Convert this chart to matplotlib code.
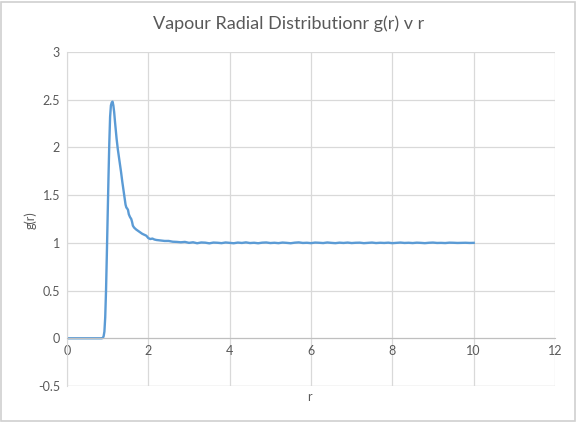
import matplotlib.pyplot as plt
from matplotlib.patches import Rectangle

# g(r)
r_peak = [0.0, 0.5, 0.85, 0.88, 0.90, 0.92, 0.94, 0.96, 0.98, 1.00, 1.02, 1.04, 1.06, 1.08,
          1.10, 1.12, 1.14, 1.16, 1.18, 1.20, 1.22, 1.25, 1.28, 1.30, 1.33, 1.36, 1.39,
          1.42, 1.44, 1.46, 1.48, 1.50, 1.52, 1.55, 1.58, 1.60, 1.62, 1.65, 1.70, 1.75,
          1.80, 1.85, 1.90, 1.95, 2.00, 2.05, 2.10, 2.15, 2.20, 2.30, 2.40, 2.50, 2.60,
          2.70, 2.80, 2.90]
g_peak = [0.0, 0.0, 0.0, 0.003, 0.02, 0.07, 0.22, 0.50, 0.88, 1.28, 1.68, 2.04, 2.32, 2.44,
          2.47, 2.48, 2.44, 2.37, 2.27, 2.18, 2.09, 1.98, 1.89, 1.83, 1.74, 1.64, 1.55,
          1.46, 1.40, 1.37, 1.36, 1.345, 1.30, 1.27, 1.25, 1.22, 1.18, 1.16, 1.14, 1.125,
          1.11, 1.095, 1.085, 1.075, 1.05, 1.04, 1.045, 1.035, 1.03, 1.025, 1.02, 1.02, 1.012,
          1.01, 1.006, 1.01]

r_tail = [3.0 + 0.1 * i for i in range(71)]
g_tail = [1.000, 1.006, 0.996, 1.004, 1.002, 0.995, 1.003, 1.001, 0.997, 1.004,
          1.000, 0.996, 1.003, 0.999, 1.005, 0.998, 1.001, 0.996, 1.002, 1.004,
          0.998, 1.001, 0.997, 1.003, 1.000, 0.996, 1.002, 1.005, 0.999, 1.001,
          0.997, 1.003, 1.001, 0.998, 1.004, 1.000, 0.997, 1.002, 0.999, 1.003,
          0.998, 1.001, 1.002, 0.997, 1.000, 1.003, 0.998, 1.001, 0.999, 1.002,
          0.997, 1.000, 1.003, 0.999, 1.001, 0.998, 1.002, 1.000, 0.997, 1.001,
          1.003, 0.999, 1.000, 0.998, 1.002, 1.001, 0.999, 1.000, 1.001, 0.999, 1.000]

r_list = r_peak + r_tail
g_list = g_peak + g_tail

x_ticks = [0, 2, 4, 6, 8, 10, 12]
y_ticks = [-0.5, 0, 0.5, 1, 1.5, 2, 2.5, 3]
y_labels = ['-0.5', '0', '0.5', '1', '1.5', '2', '2.5', '3']

plt.rcParams['font.family'] = ['Lato', 'DejaVu Sans']

fig = plt.figure(figsize=(5.77, 4.24), dpi=100)
fig.patches.append(Rectangle((0.002, 0.007), 0.995, 0.988, transform=fig.transFigure,
                             fill=False, edgecolor='#d0d0d0', linewidth=1.2))
ax = fig.add_axes([0.1161, 0.0896, 0.8458, 0.7878])

ax.plot(r_list, g_list, color='#5B9BD5', linewidth=1.7)

ax.set_xlim(0, 12)
ax.set_ylim(-0.5, 3)
ax.set_xticks(x_ticks)
ax.set_yticks(y_ticks)
ax.set_yticklabels(y_labels)
ax.grid(True, color='#d9d9d9', linewidth=0.9)
ax.set_axisbelow(True)

ax.spines['bottom'].set_position(('data', 0))
ax.spines['bottom'].set_color('#bfbfbf')
ax.spines['left'].set_color('#d9d9d9')
ax.spines['top'].set_visible(False)
ax.spines['right'].set_visible(False)
ax.axhline(-0.5, color='#d9d9d9', linewidth=0.9, zorder=0)
ax.tick_params(length=0, labelsize=9, labelcolor='#595959', pad=5)

fig.text(0.5365, 0.063, 'r', ha='center', va='center', fontsize=9, color='#595959')
fig.text(0.053, 0.48, 'g(r)', ha='center', va='center', rotation=90, fontsize=9, color='#595959')
fig.text(0.5, 0.944, 'Vapour Radial Distributionr g(r) v r', ha='center', va='center',
         fontsize=13, color='#595959')

fig.savefig('out.png', dpi=100)
